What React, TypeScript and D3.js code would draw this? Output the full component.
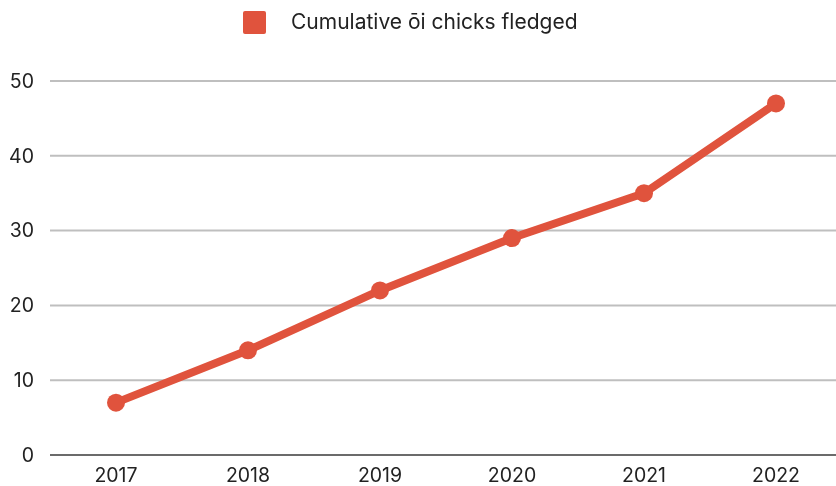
import { useEffect, useRef } from "react"
import * as d3 from "d3"

const years = ["2017", "2018", "2019", "2020", "2021", "2022"]
const chicks = [7, 14, 22, 29, 35, 47]
const yTicks = [0, 10, 20, 30, 40, 50]
const seriesName = "Cumulative ōi chicks fledged"

const RED = "#e0533d"
const FONT = "Inter, 'Open Sans', sans-serif"

export default function App() {
  const svgRef = useRef<SVGSVGElement>(null)

  useEffect(() => {
    if (!svgRef.current) return
    d3.select(svgRef.current).selectAll("*").remove()

    const width = 836
    const height = 486
    const left = 50
    const svg = d3.select(svgRef.current).attr("width", width).attr("height", height)

    const x = d3.scaleBand().domain(years).range([left, left + 792])
    const y = d3.scaleLinear().domain([0, 50]).range([455, 81])

    // Gridlines
    svg
      .append("g")
      .selectAll("line")
      .data(yTicks)
      .enter()
      .append("line")
      .attr("x1", left)
      .attr("x2", width)
      .attr("y1", (d) => y(d))
      .attr("y2", (d) => y(d))
      .attr("stroke", (d) => (d === 0 ? "#6b6b6b" : "#bfbfbf"))
      .attr("stroke-width", 2)

    // Y labels
    svg
      .append("g")
      .selectAll("text")
      .data(yTicks)
      .enter()
      .append("text")
      .attr("x", 34)
      .attr("y", (d) => y(d))
      .attr("dy", "0.35em")
      .attr("text-anchor", "end")
      .attr("font-family", FONT)
      .attr("font-size", 19.5)
      .attr("fill", "#222")
      .text((d) => d)

    // X labels
    svg
      .append("g")
      .selectAll("text")
      .data(years)
      .enter()
      .append("text")
      .attr("x", (d) => (x(d) ?? 0) + x.bandwidth() / 2)
      .attr("y", 475)
      .attr("dy", "0.35em")
      .attr("text-anchor", "middle")
      .attr("font-family", FONT)
      .attr("font-size", 19.5)
      .attr("fill", "#222")
      .text((d) => d)

    const data = years.map((yr, i) => ({ yr, v: chicks[i] }))
    const line = d3
      .line<{ yr: string; v: number }>()
      .x((d) => (x(d.yr) ?? 0) + x.bandwidth() / 2)
      .y((d) => y(d.v))

    svg
      .append("path")
      .datum(data)
      .attr("fill", "none")
      .attr("stroke", RED)
      .attr("stroke-width", 8)
      .attr("stroke-linejoin", "round")
      .attr("d", line)

    svg
      .append("g")
      .selectAll("circle")
      .data(data)
      .enter()
      .append("circle")
      .attr("cx", (d) => (x(d.yr) ?? 0) + x.bandwidth() / 2)
      .attr("cy", (d) => y(d.v))
      .attr("r", 9)
      .attr("fill", RED)

    // Legend
    svg
      .append("rect")
      .attr("x", 243)
      .attr("y", 11)
      .attr("width", 23)
      .attr("height", 23)
      .attr("rx", 2)
      .attr("fill", RED)

    svg
      .append("text")
      .attr("x", 291)
      .attr("y", 22)
      .attr("dy", "0.35em")
      .attr("font-family", FONT)
      .attr("font-size", 21)
      .attr("fill", "#222")
      .text(seriesName)
  }, [])

  return (
    <div style={{ position: "fixed", left: 0, top: 0 }}>
      <svg ref={svgRef} style={{ display: "block" }} />
    </div>
  )
}
